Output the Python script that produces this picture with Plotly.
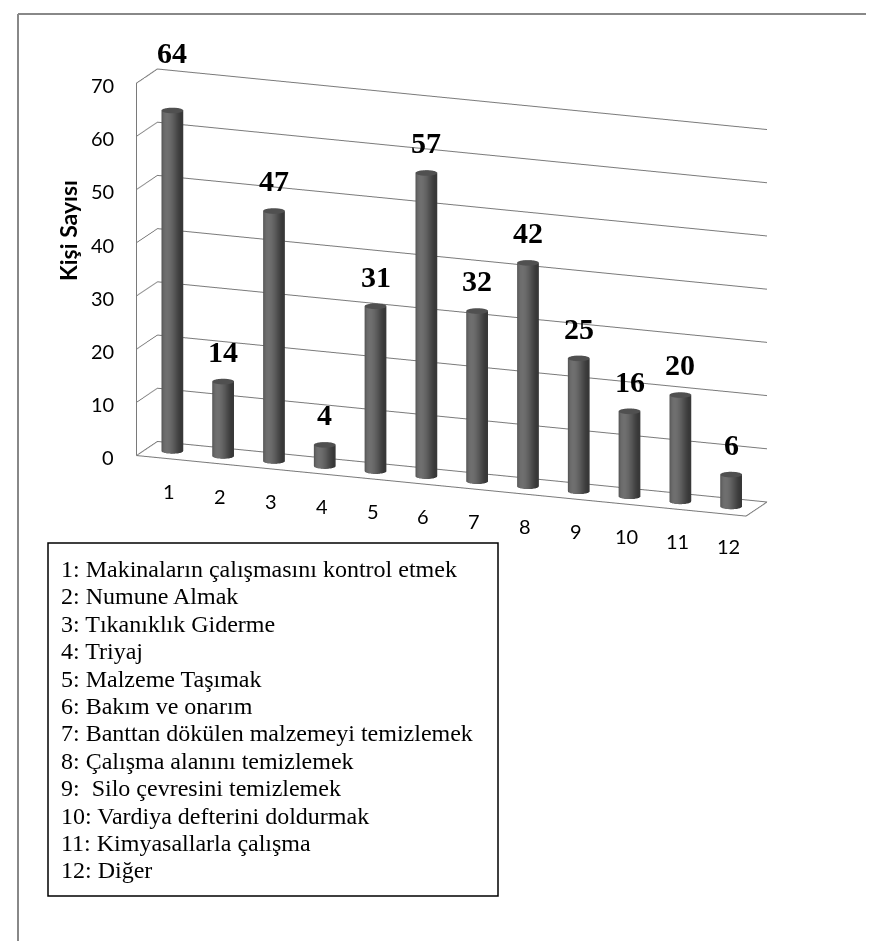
import numpy as np
import plotly.graph_objects as go

# ---------------- data ----------------
categories = ["1", "2", "3", "4", "5", "6", "7", "8", "9", "10", "11", "12"]
values = [64, 14, 47, 4, 31, 57, 32, 42, 25, 16, 20, 6]
z_ticks = [0, 10, 20, 30, 40, 50, 60, 70]
z_title = "Kişi Sayısı"
legend_lines = [
    "1: Makinaların çalışmasını kontrol etmek",
    "2: Numune Almak",
    "3: Tıkanıklık Giderme",
    "4: Triyaj",
    "5: Malzeme Taşımak",
    "6: Bakım ve onarım",
    "7: Banttan dökülen malzemeyi temizlemek",
    "8: Çalışma alanını temizlemek",
    "9:\u00a0 Silo çevresini temizlemek",
    "10: Vardiya defterini doldurmak",
    "11: Kimyasallarla çalışma",
    "12: Diğer",
]

# ---------------- geometry ----------------
W, H = 874, 941
xs = np.arange(1, len(values) + 1)
x_range = [0.5, len(values) + 0.5]
y_range = [0.0, 1.0]
z_range = [0, 70]
k = 0.857
aspect = dict(x=2.6 * k * 0.99, y=0.23 * k, z=1.52 * k)

r_x = 0.2
r_y = r_x * (aspect["x"] / (x_range[1] - x_range[0])) / (aspect["y"] / (y_range[1] - y_range[0]))
y_mid = 0.5
n_seg = 48

# cylinder shading (light from the front-left)
theta = np.linspace(0, 2 * np.pi, n_seg, endpoint=False)
th_light = np.radians(-100)
side_lvl = 56 + 56 * np.clip(np.cos(theta - th_light), 0, None) ** 2
side_cols = [f"rgb({int(v)},{int(v)},{int(v)})" for v in side_lvl]
cap_col = "rgb(80,80,80)"

vx, vy, vz, fi, fj, fk, vcol = [], [], [], [], [], [], []
for cx, h in zip(xs, values):
    base = len(vx)
    ring_x = list(cx + r_x * np.cos(theta))
    ring_y = list(y_mid + r_y * np.sin(theta))
    vx += ring_x; vy += ring_y; vz += [0] * n_seg; vcol += side_cols        # side bottom
    vx += ring_x; vy += ring_y; vz += [h] * n_seg; vcol += side_cols        # side top
    vx += ring_x; vy += ring_y; vz += [h] * n_seg; vcol += [cap_col] * n_seg  # cap ring
    vx.append(cx); vy.append(y_mid); vz.append(h); vcol.append(cap_col)    # cap centre
    cap0 = base + 2 * n_seg
    top_c = base + 3 * n_seg
    for s in range(n_seg):
        a, b = base + s, base + (s + 1) % n_seg
        c, d = a + n_seg, b + n_seg
        fi += [a, b]; fj += [b, d]; fk += [c, c]
        fi.append(top_c); fj.append(cap0 + s); fk.append(cap0 + (s + 1) % n_seg)

fig = go.Figure()
fig.add_trace(go.Mesh3d(
    x=vx, y=vy, z=vz, i=fi, j=fj, k=fk, vertexcolor=vcol,
    flatshading=False, hoverinfo="skip",
    lighting=dict(ambient=1.0, diffuse=0.0, specular=0.0, roughness=1.0, fresnel=0.0),
))

grid_col = "#7a7a7a"
x0, x1 = x_range
y0, y1 = y_range
fig.add_trace(go.Scatter3d(
    x=[x0, x1, x1, x0, x0, x0, x0], y=[y0, y0, y1, y1, y0, y0, y1],
    z=[0, 0, 0, 0, 0, z_range[1], z_range[1]],
    mode="lines", line=dict(color=grid_col, width=2), hoverinfo="skip", showlegend=False,
))

label_font = dict(family="Liberation Serif", size=30, color="black")
tick_font = dict(family="Lato", size=20, color="black")
top_val = max(values)
scene_ann = []
for cx, v in zip(xs, values):
    lift = 58 if v == top_val else 30
    scene_ann.append(dict(x=cx, y=y_mid, z=v, text=f"<b>{v}</b>", showarrow=False,
                          yanchor="middle", xanchor="center", yshift=lift, font=label_font))
for cx, lab in zip(xs, categories):
    scene_ann.append(dict(x=cx, y=y_mid, z=0, text=lab, showarrow=False, yanchor="middle",
                          xanchor="center", yshift=-40, xshift=-3, font=tick_font))
for t in z_ticks:
    scene_ann.append(dict(x=x0, y=y0, z=t, text=str(t), showarrow=False, yanchor="middle",
                          xanchor="right", xshift=-20, yshift=-2, font=tick_font))

common = dict(showbackground=False, showspikes=False, zeroline=False, title=dict(text=""),
              showline=False, ticks="", showticklabels=False)

az, el, R = np.radians(21), np.radians(15), 2.56
cen = dict(x=0.045, y=0.017, z=-0.04)
eye = dict(x=cen["x"] + R * np.sin(az) * np.cos(el),
           y=cen["y"] - R * np.cos(az) * np.cos(el),
           z=cen["z"] + R * np.sin(el))

fig.update_layout(
    width=W, height=H,
    margin=dict(l=0, r=0, t=0, b=0),
    paper_bgcolor="white",
    showlegend=False,
    scene=dict(
        domain=dict(x=[0.048, 1.0], y=[0.371, 1.0]),
        xaxis=dict(range=x_range, showgrid=False, **common),
        yaxis=dict(range=y_range, showgrid=False, **common),
        zaxis=dict(range=z_range, tickvals=z_ticks, showgrid=True, gridcolor=grid_col, gridwidth=2,
                   **common),
        aspectmode="manual", aspectratio=aspect,
        camera=dict(eye=eye, center=cen, up=dict(x=0, y=0, z=1),
                    projection=dict(type="orthographic")),
        bgcolor="white",
        annotations=scene_ann,
    ),
)

fig.add_annotation(x=60 / W, y=1 - 223 / H, xref="paper", yref="paper", text=f"<b>{z_title}</b>",
                   textangle=-90, showarrow=False, xanchor="center", yanchor="middle",
                   font=dict(family="Lato", size=23, color="black"))

box_x0, box_x1, box_y0, box_y1 = 40, 490, 535, 888
fig.add_shape(type="rect", xref="paper", yref="paper", x0=box_x0 / W, x1=box_x1 / W,
              y0=1 - box_y1 / H, y1=1 - box_y0 / H, line=dict(color="black", width=1.5),
              fillcolor="rgba(0,0,0,0)", layer="above")
line_gap = 27.4
for n, txt in enumerate(legend_lines):
    fig.add_annotation(x=51 / W, y=1 - (561 + n * line_gap) / H, xref="paper", yref="paper",
                       text=txt, showarrow=False, xanchor="left", yanchor="middle",
                       font=dict(family="Liberation Serif", size=24, color="black"))

fig.add_shape(type="line", xref="paper", yref="paper", x0=10 / W, x1=10 / W, y0=0, y1=1 - 6 / H,
              line=dict(color="#888888", width=2))
fig.add_shape(type="line", xref="paper", yref="paper", x0=10 / W, x1=1, y0=1 - 6 / H, y1=1 - 6 / H,
              line=dict(color="#888888", width=2))

fig.write_html("out.html", config={"displayModeBar": False})
